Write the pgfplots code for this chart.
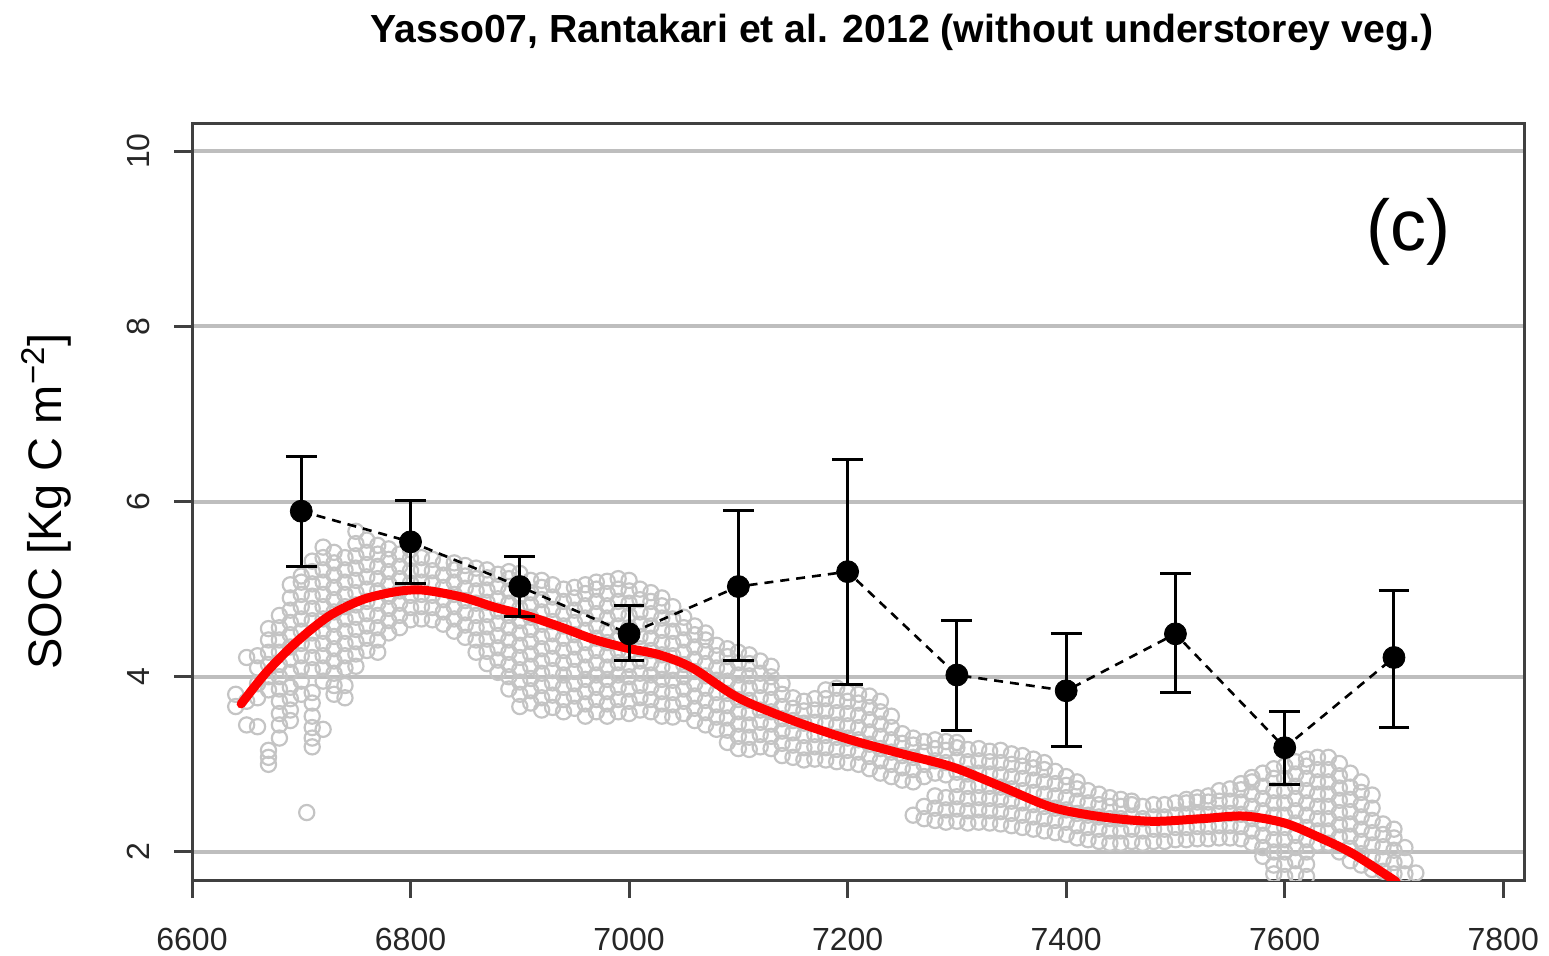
\documentclass[border=0pt]{standalone}
\usepackage{pgfplots}
\pgfplotsset{compat=1.18}
\usepackage{fontspec}
\setmainfont{Liberation Sans}
\definecolor{ptgrey}{HTML}{C4C4C4}
\definecolor{gridgrey}{HTML}{BEBEBE}
\definecolor{boxgrey}{HTML}{404040}
\begin{document}
\begin{tikzpicture}
\useasboundingbox (-96bp,-38bp) rectangle (678.5bp,440bp);
\begin{axis}[
  at={(0,0)}, anchor=south west,
  scale only axis, width=666bp, height=378bp,
  xmin=6600, xmax=7819, ymin=1.68, ymax=10.31,
  axis line style={boxgrey, line width=1.5bp},
  xtick={6600,6800,...,7800}, ytick={2,4,...,10},
  tick pos=left, tick align=outside, major tick length=9bp,
  tick style={boxgrey, line width=1.5bp},
  ymajorgrids, grid style={gridgrey, line width=2bp},
  /pgf/number format/1000 sep={},
  /pgf/number format/assume math mode=true,
  xticklabel style={font=\fontsize{16bp}{18bp}\selectfont, inner sep=0pt, anchor=north, text=black!85},
  yticklabel style={font=\fontsize{16bp}{18bp}\selectfont, inner sep=0pt, rotate=90, anchor=south, text=black!85},
  xticklabel shift=15bp, yticklabel shift=12bp,
  clip=true, clip marker paths=true,
]
% grey scatter of simulated values
\addplot[only marks, mark=o, mark size=3.8bp, mark options={ptgrey, line width=1.1bp}] coordinates {
(6640,3.66)(6640,3.8)
(6650,3.45)(6650,3.72)(6650,4.22)
(6660,3.76)(6660,3.92)(6660,4.1)(6660,4.24)(6660,3.43)
(6670,3.0)(6670,3.08)(6670,3.16)(6670,3.85)(6670,4.0)(6670,4.14)(6670,4.28)(6670,4.42)(6670,4.55)
(6680,3.3)(6680,3.45)(6680,3.58)(6680,3.72)(6680,3.86)(6680,4.0)(6680,4.14)(6680,4.28)(6680,4.42)(6680,4.56)(6680,4.7)
(6690,3.5)(6690,3.62)(6690,3.75)(6690,3.88)(6690,4.05)(6690,4.2)(6690,4.34)(6690,4.48)(6690,4.62)(6690,4.76)(6690,4.9)(6690,5.05)
(6700,3.8)(6700,3.95)(6700,4.1)(6700,4.24)(6700,4.38)(6700,4.52)(6700,4.66)(6700,4.8)(6700,4.94)(6700,5.08)(6700,5.15)
(6705,2.45)
(6710,3.2)(6710,3.3)(6710,3.42)(6710,3.55)(6710,3.7)(6710,3.82)(6710,4.08)(6710,4.22)(6710,4.36)(6710,4.5)(6710,4.64)(6710,4.78)(6710,4.92)(6710,5.06)(6710,5.2)(6710,5.32)
(6720,3.4)(6720,3.95)(6720,4.1)(6720,4.24)(6720,4.38)(6720,4.52)(6720,4.66)(6720,4.8)(6720,4.94)(6720,5.08)(6720,5.22)(6720,5.36)(6720,5.48)
(6730,3.8)(6730,3.9)(6730,4.04)(6730,4.18)(6730,4.32)(6730,4.46)(6730,4.6)(6730,4.74)(6730,4.88)(6730,5.02)(6730,5.16)(6730,5.3)(6730,5.42)
(6740,3.76)(6740,3.9)(6740,4.1)(6740,4.24)(6740,4.38)(6740,4.52)(6740,4.66)(6740,4.8)(6740,4.94)(6740,5.08)(6740,5.22)(6740,5.36)
(6750,4.12)(6750,4.26)(6750,4.4)(6750,4.54)(6750,4.68)(6750,4.82)(6750,4.96)(6750,5.1)(6750,5.24)(6750,5.38)(6750,5.52)(6750,5.66)
(6760,4.3)(6760,4.44)(6760,4.58)(6760,4.72)(6760,4.86)(6760,5.0)(6760,5.14)(6760,5.28)(6760,5.42)(6760,5.56)
(6770,4.28)(6770,4.42)(6770,4.56)(6770,4.7)(6770,4.84)(6770,4.98)(6770,5.12)(6770,5.26)(6770,5.4)(6770,5.5)
(6780,4.5)(6780,4.64)(6780,4.78)(6780,4.92)(6780,5.06)(6780,5.2)(6780,5.34)(6780,5.46)
(6790,4.56)(6790,4.7)(6790,4.84)(6790,4.98)(6790,5.12)(6790,5.26)(6790,5.4)
(6800,4.65)(6800,4.79)(6800,4.93)(6800,5.07)(6800,5.21)(6800,5.35)(6800,5.45)
(6810,4.66)(6810,4.8)(6810,4.94)(6810,5.08)(6810,5.22)(6810,5.36)
(6820,4.65)(6820,4.79)(6820,4.93)(6820,5.07)(6820,5.21)(6820,5.34)
(6830,4.6)(6830,4.74)(6830,4.88)(6830,5.02)(6830,5.16)(6830,5.3)
(6840,4.52)(6840,4.66)(6840,4.8)(6840,4.94)(6840,5.08)(6840,5.22)(6840,5.3)
(6850,4.45)(6850,4.59)(6850,4.73)(6850,4.87)(6850,5.01)(6850,5.15)(6850,5.27)
(6860,4.28)(6860,4.42)(6860,4.56)(6860,4.7)(6860,4.84)(6860,4.98)(6860,5.12)(6860,5.24)
(6870,4.15)(6870,4.29)(6870,4.43)(6870,4.57)(6870,4.71)(6870,4.85)(6870,4.99)(6870,5.13)(6870,5.22)
(6880,4.05)(6880,4.19)(6880,4.33)(6880,4.47)(6880,4.61)(6880,4.75)(6880,4.89)(6880,5.03)(6880,5.17)
(6890,3.86)(6890,4.0)(6890,4.14)(6890,4.28)(6890,4.42)(6890,4.56)(6890,4.7)(6890,4.84)(6890,4.98)(6890,5.12)(6890,5.2)
(6900,3.66)(6900,3.8)(6900,3.94)(6900,4.08)(6900,4.22)(6900,4.36)(6900,4.5)(6900,4.64)(6900,4.78)(6900,4.92)(6900,5.06)(6900,5.18)
(6910,3.7)(6910,3.84)(6910,3.98)(6910,4.12)(6910,4.26)(6910,4.4)(6910,4.54)(6910,4.68)(6910,4.82)(6910,4.96)(6910,5.1)
(6920,3.62)(6920,3.76)(6920,3.9)(6920,4.04)(6920,4.18)(6920,4.32)(6920,4.46)(6920,4.6)(6920,4.74)(6920,4.88)(6920,5.02)(6920,5.1)
(6930,3.65)(6930,3.79)(6930,3.93)(6930,4.07)(6930,4.21)(6930,4.35)(6930,4.49)(6930,4.63)(6930,4.77)(6930,4.91)(6930,5.05)
(6940,3.6)(6940,3.74)(6940,3.88)(6940,4.02)(6940,4.16)(6940,4.3)(6940,4.44)(6940,4.58)(6940,4.72)(6940,4.86)(6940,5.0)
(6950,3.64)(6950,3.78)(6950,3.92)(6950,4.06)(6950,4.2)(6950,4.34)(6950,4.48)(6950,4.62)(6950,4.76)(6950,4.9)(6950,5.02)
(6960,3.55)(6960,3.69)(6960,3.83)(6960,3.97)(6960,4.11)(6960,4.25)(6960,4.39)(6960,4.53)(6960,4.67)(6960,4.81)(6960,4.95)(6960,5.05)
(6970,3.6)(6970,3.74)(6970,3.88)(6970,4.02)(6970,4.16)(6970,4.3)(6970,4.44)(6970,4.58)(6970,4.72)(6970,4.86)(6970,5.0)(6970,5.08)
(6980,3.55)(6980,3.69)(6980,3.83)(6980,3.97)(6980,4.11)(6980,4.25)(6980,4.39)(6980,4.53)(6980,4.67)(6980,4.81)(6980,4.95)(6980,5.09)
(6990,3.6)(6990,3.74)(6990,3.88)(6990,4.02)(6990,4.16)(6990,4.3)(6990,4.44)(6990,4.58)(6990,4.72)(6990,4.86)(6990,5.0)(6990,5.12)
(7000,3.58)(7000,3.72)(7000,3.86)(7000,4.0)(7000,4.14)(7000,4.28)(7000,4.42)(7000,4.56)(7000,4.7)(7000,4.84)(7000,4.98)(7000,5.1)
(7010,3.62)(7010,3.76)(7010,3.9)(7010,4.04)(7010,4.18)(7010,4.32)(7010,4.46)(7010,4.6)(7010,4.74)(7010,4.88)(7010,5.0)
(7020,3.6)(7020,3.74)(7020,3.88)(7020,4.02)(7020,4.16)(7020,4.3)(7020,4.44)(7020,4.58)(7020,4.72)(7020,4.86)(7020,4.96)
(7030,3.55)(7030,3.69)(7030,3.83)(7030,3.97)(7030,4.11)(7030,4.25)(7030,4.39)(7030,4.53)(7030,4.67)(7030,4.81)(7030,4.9)
(7040,3.54)(7040,3.68)(7040,3.82)(7040,3.96)(7040,4.1)(7040,4.24)(7040,4.38)(7040,4.52)(7040,4.66)(7040,4.8)
(7050,3.58)(7050,3.72)(7050,3.86)(7050,4.0)(7050,4.14)(7050,4.28)(7050,4.42)(7050,4.56)(7050,4.68)
(7060,3.5)(7060,3.64)(7060,3.78)(7060,3.92)(7060,4.06)(7060,4.2)(7060,4.34)(7060,4.48)(7060,4.58)
(7070,3.45)(7070,3.59)(7070,3.73)(7070,3.87)(7070,4.01)(7070,4.15)(7070,4.29)(7070,4.42)(7070,4.5)
(7080,3.4)(7080,3.54)(7080,3.68)(7080,3.82)(7080,3.96)(7080,4.1)(7080,4.24)(7080,4.36)
(7090,3.25)(7090,3.39)(7090,3.53)(7090,3.67)(7090,3.81)(7090,3.95)(7090,4.09)(7090,4.23)(7090,4.32)
(7100,3.18)(7100,3.32)(7100,3.46)(7100,3.6)(7100,3.74)(7100,3.88)(7100,4.02)(7100,4.16)(7100,4.28)
(7110,3.17)(7110,3.31)(7110,3.45)(7110,3.59)(7110,3.73)(7110,3.87)(7110,4.01)(7110,4.15)(7110,4.25)
(7120,3.2)(7120,3.34)(7120,3.48)(7120,3.62)(7120,3.76)(7120,3.9)(7120,4.04)(7120,4.18)
(7130,3.18)(7130,3.32)(7130,3.46)(7130,3.6)(7130,3.74)(7130,3.88)(7130,4.0)(7130,4.12)
(7140,3.1)(7140,3.24)(7140,3.38)(7140,3.52)(7140,3.66)(7140,3.8)(7140,3.92)
(7150,3.08)(7150,3.22)(7150,3.36)(7150,3.5)(7150,3.64)(7150,3.76)
(7160,3.05)(7160,3.19)(7160,3.33)(7160,3.47)(7160,3.61)(7160,3.72)
(7170,3.06)(7170,3.2)(7170,3.34)(7170,3.48)(7170,3.62)(7170,3.75)
(7180,3.05)(7180,3.19)(7180,3.33)(7180,3.47)(7180,3.61)(7180,3.75)(7180,3.85)
(7190,3.03)(7190,3.17)(7190,3.31)(7190,3.45)(7190,3.59)(7190,3.73)(7190,3.87)
(7200,3.02)(7200,3.16)(7200,3.3)(7200,3.44)(7200,3.58)(7200,3.72)(7200,3.82)
(7210,3.0)(7210,3.14)(7210,3.28)(7210,3.42)(7210,3.56)(7210,3.7)(7210,3.8)
(7220,2.95)(7220,3.09)(7220,3.23)(7220,3.37)(7220,3.51)(7220,3.65)(7220,3.78)
(7230,2.9)(7230,3.04)(7230,3.18)(7230,3.32)(7230,3.46)(7230,3.6)(7230,3.72)
(7240,2.86)(7240,3.0)(7240,3.14)(7240,3.28)(7240,3.42)(7240,3.55)
(7250,2.82)(7250,2.96)(7250,3.1)(7250,3.24)(7250,3.35)
(7260,2.8)(7260,2.94)(7260,3.08)(7260,3.22)(7260,3.3)(7260,2.42)
(7270,2.38)(7270,2.52)(7270,2.86)(7270,3.0)(7270,3.14)(7270,3.26)
(7280,2.36)(7280,2.5)(7280,2.64)(7280,2.9)(7280,3.04)(7280,3.18)(7280,3.28)
(7290,2.34)(7290,2.48)(7290,2.62)(7290,2.88)(7290,3.02)(7290,3.16)(7290,3.26)
(7300,2.35)(7300,2.49)(7300,2.63)(7300,2.77)(7300,2.91)(7300,3.05)(7300,3.19)(7300,3.25)
(7310,2.33)(7310,2.47)(7310,2.61)(7310,2.75)(7310,2.89)(7310,3.03)(7310,3.17)
(7320,2.34)(7320,2.48)(7320,2.62)(7320,2.76)(7320,2.9)(7320,3.04)(7320,3.18)
(7330,2.33)(7330,2.47)(7330,2.61)(7330,2.75)(7330,2.89)(7330,3.03)(7330,3.15)
(7340,2.32)(7340,2.46)(7340,2.6)(7340,2.74)(7340,2.88)(7340,3.02)(7340,3.16)
(7350,2.3)(7350,2.44)(7350,2.58)(7350,2.72)(7350,2.86)(7350,3.0)(7350,3.12)
(7360,2.28)(7360,2.42)(7360,2.56)(7360,2.7)(7360,2.84)(7360,2.98)(7360,3.1)
(7370,2.26)(7370,2.4)(7370,2.54)(7370,2.68)(7370,2.82)(7370,2.96)(7370,3.06)
(7380,2.24)(7380,2.38)(7380,2.52)(7380,2.66)(7380,2.8)(7380,2.94)(7380,3.02)
(7390,2.22)(7390,2.36)(7390,2.5)(7390,2.64)(7390,2.78)(7390,2.92)
(7400,2.2)(7400,2.34)(7400,2.48)(7400,2.62)(7400,2.76)(7400,2.86)
(7410,2.16)(7410,2.3)(7410,2.44)(7410,2.58)(7410,2.72)(7410,2.8)
(7420,2.14)(7420,2.28)(7420,2.42)(7420,2.56)(7420,2.7)
(7430,2.12)(7430,2.26)(7430,2.4)(7430,2.54)(7430,2.66)
(7440,2.1)(7440,2.24)(7440,2.38)(7440,2.52)(7440,2.62)
(7450,2.1)(7450,2.24)(7450,2.38)(7450,2.52)(7450,2.6)
(7460,2.12)(7460,2.26)(7460,2.4)(7460,2.54)(7460,2.58)
(7470,2.1)(7470,2.24)(7470,2.38)(7470,2.52)
(7480,2.12)(7480,2.26)(7480,2.4)(7480,2.54)
(7490,2.12)(7490,2.26)(7490,2.4)(7490,2.54)
(7500,2.14)(7500,2.28)(7500,2.42)(7500,2.56)
(7510,2.14)(7510,2.28)(7510,2.42)(7510,2.56)(7510,2.6)
(7520,2.15)(7520,2.29)(7520,2.43)(7520,2.57)(7520,2.62)
(7530,2.15)(7530,2.29)(7530,2.43)(7530,2.57)(7530,2.64)
(7540,2.16)(7540,2.3)(7540,2.44)(7540,2.58)(7540,2.7)
(7550,2.16)(7550,2.3)(7550,2.44)(7550,2.58)(7550,2.72)
(7560,2.15)(7560,2.29)(7560,2.43)(7560,2.57)(7560,2.71)(7560,2.78)
(7570,2.1)(7570,2.24)(7570,2.38)(7570,2.52)(7570,2.66)(7570,2.8)(7570,2.85)
(7580,1.95)(7580,2.05)(7580,2.19)(7580,2.33)(7580,2.47)(7580,2.61)(7580,2.75)(7580,2.9)
(7590,1.75)(7590,1.85)(7590,2.0)(7590,2.14)(7590,2.28)(7590,2.42)(7590,2.56)(7590,2.7)(7590,2.84)(7590,2.95)
(7600,1.72)(7600,1.86)(7600,2.0)(7600,2.14)(7600,2.28)(7600,2.42)(7600,2.56)(7600,2.7)(7600,2.84)(7600,2.98)
(7610,1.75)(7610,1.9)(7610,2.05)(7610,2.19)(7610,2.33)(7610,2.47)(7610,2.61)(7610,2.75)(7610,2.89)(7610,3.03)
(7620,1.72)(7620,1.86)(7620,2.0)(7620,2.14)(7620,2.28)(7620,2.42)(7620,2.56)(7620,2.7)(7620,2.84)(7620,2.98)(7620,3.06)
(7630,2.1)(7630,2.24)(7630,2.38)(7630,2.52)(7630,2.66)(7630,2.8)(7630,2.94)(7630,3.08)
(7640,2.1)(7640,2.24)(7640,2.38)(7640,2.52)(7640,2.66)(7640,2.8)(7640,2.94)(7640,3.08)
(7650,2.0)(7650,2.17)(7650,2.31)(7650,2.45)(7650,2.59)(7650,2.73)(7650,2.87)(7650,3.01)
(7660,1.9)(7660,2.04)(7660,2.18)(7660,2.32)(7660,2.46)(7660,2.6)(7660,2.74)(7660,2.9)
(7670,1.85)(7670,1.98)(7670,2.12)(7670,2.26)(7670,2.4)(7670,2.54)(7670,2.68)(7670,2.8)
(7680,1.8)(7680,1.94)(7680,2.08)(7680,2.22)(7680,2.36)(7680,2.5)(7680,2.65)
(7690,1.78)(7690,1.92)(7690,2.06)(7690,2.2)(7690,2.32)
(7700,1.75)(7700,1.88)(7700,2.02)(7700,2.16)(7700,2.26)
(7710,1.75)(7710,1.9)(7710,2.05)
(7720,1.76)
};
% red smooth fit
\addplot[red, line width=4.5bp, smooth, line join=round, line cap=round, no markers] coordinates {
(6645,3.69)(6668,4.05)(6695,4.39)(6725,4.69)(6756,4.88)(6786,4.97)(6811,4.99)(6847,4.91)(6878,4.79)(6906,4.7)(6937,4.57)(6967,4.43)(6997,4.33)(7028,4.25)(7058,4.1)(7100,3.76)(7150,3.5)(7200,3.29)(7250,3.12)(7296,2.97)(7342,2.74)(7387,2.51)(7433,2.4)(7479,2.35)(7524,2.38)(7563,2.41)(7600,2.33)(7631,2.17)(7661,1.99)(7695,1.72)(7702,1.66)
};
% dashed line connecting observations
\addplot[black, line width=1.3bp, dash pattern=on 4.5bp off 3.5bp, no markers] coordinates {
(6700,5.89)(6800,5.54)(6900,5.03)(7000,4.49)(7100,5.03)(7200,5.20)(7300,4.02)(7400,3.84)(7500,4.49)(7600,3.19)(7700,4.22)
};
% observations with error bars
\addplot[only marks, mark=*, mark size=5.5bp, black,
  error bars/.cd, y dir=both, y explicit,
  error bar style={black, line width=1.5bp},
  error mark options={rotate=90, mark size=7.7bp, line width=1.5bp, black}] coordinates {
(6700,5.89) += (0,0.62) -= (0,0.63)
(6800,5.54) += (0,0.47) -= (0,0.47)
(6900,5.03) += (0,0.34) -= (0,0.34)
(7000,4.49) += (0,0.32) -= (0,0.31)
(7100,5.03) += (0,0.87) -= (0,0.85)
(7200,5.20) += (0,1.28) -= (0,1.29)
(7300,4.02) += (0,0.62) -= (0,0.63)
(7400,3.84) += (0,0.65) -= (0,0.64)
(7500,4.49) += (0,0.69) -= (0,0.67)
(7600,3.19) += (0,0.41) -= (0,0.42)
(7700,4.22) += (0,0.77) -= (0,0.80)
};
\node[font=\fontsize{36bp}{40bp}\selectfont] at (axis cs:7713,9.08) {(c)};
\end{axis}
\node[anchor=base, font=\fontsize{19.6bp}{22bp}\selectfont\bfseries] at (355bp,418.5bp) {Yasso07, Rantakari et al. 2012 (without understorey veg.)};
\node[anchor=base, rotate=90, font=\fontsize{23.5bp}{26bp}\selectfont] at (-65bp,189.25bp) {SOC [Kg C m\textsuperscript{−2}]};
\end{tikzpicture}
\end{document}
